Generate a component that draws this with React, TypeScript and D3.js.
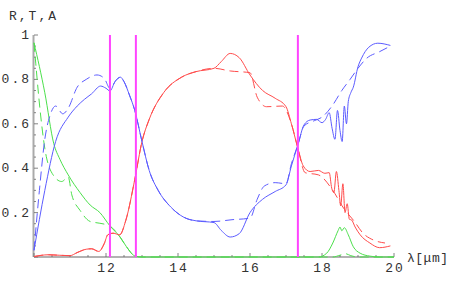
import React from 'react';
import * as d3 from 'd3';

// wavelength (um) vs value
const rSolid: [number, number][] = [
  [10, 0.03], [10.3, 0.3], [10.6, 0.52], [10.95, 0.63], [11.2, 0.68], [11.4, 0.71], [11.6, 0.735],
  [11.85, 0.77], [12.0, 0.76], [12.11, 0.748], [12.25, 0.79], [12.4, 0.81], [12.5, 0.79], [12.65, 0.73],
  [12.8, 0.66], [13.0, 0.52], [13.2, 0.39], [13.45, 0.3], [13.8, 0.225], [14.15, 0.18], [14.5, 0.163],
  [15.0, 0.155], [15.2, 0.12], [15.45, 0.09], [15.7, 0.105], [16.0, 0.2], [16.35, 0.26], [16.7, 0.295],
  [17.0, 0.325], [17.15, 0.41], [17.33, 0.505], [17.5, 0.595], [17.67, 0.617], [17.85, 0.62], [18.0, 0.605],
  [18.1, 0.62], [18.2, 0.65], [18.28, 0.58], [18.36, 0.53], [18.43, 0.66], [18.5, 0.57], [18.56, 0.52],
  [18.62, 0.68], [18.68, 0.6], [18.73, 0.7], [18.8, 0.74], [18.87, 0.765], [19.0, 0.857], [19.1, 0.896],
  [19.3, 0.945], [19.55, 0.963], [19.9, 0.953],
];
const rDashed: [number, number][] = [
  [10, 0.03], [10.15, 0.3], [10.3, 0.53], [10.45, 0.64], [10.6, 0.68], [10.8, 0.645], [10.95, 0.67],
  [11.2, 0.765], [11.45, 0.8], [11.75, 0.82], [11.95, 0.805], [12.11, 0.76], [12.3, 0.8], [12.4, 0.81],
  [12.5, 0.79], [12.65, 0.73], [12.8, 0.66], [13.0, 0.52], [13.2, 0.39], [13.45, 0.3], [13.8, 0.225],
  [14.15, 0.18], [14.5, 0.163], [15.0, 0.16], [15.5, 0.168], [16.0, 0.175], [16.2, 0.26], [16.4, 0.32],
  [16.7, 0.335], [17.0, 0.33], [17.15, 0.42], [17.33, 0.505], [17.5, 0.59], [17.8, 0.615], [18.0, 0.63],
  [18.3, 0.685], [18.55, 0.75], [18.78, 0.8], [19.0, 0.85], [19.24, 0.895], [19.6, 0.925], [19.9, 0.95],
];
const aSolid: [number, number][] = [
  [10, 0.002], [10.4, 0.01], [10.7, 0.008], [11.0, 0.006], [11.2, 0.02], [11.45, 0.035], [11.6, 0.037],
  [11.8, 0.025], [11.95, 0.06], [12.05, 0.1], [12.2, 0.107], [12.38, 0.1], [12.55, 0.165], [12.8, 0.35],
  [13.0, 0.52], [13.2, 0.62], [13.6, 0.74], [14.1, 0.81], [14.5, 0.835], [15.0, 0.85], [15.2, 0.88],
  [15.45, 0.917], [15.7, 0.898], [16.0, 0.82], [16.35, 0.75], [16.7, 0.715], [17.0, 0.677], [17.15, 0.6],
  [17.33, 0.49], [17.48, 0.41], [17.67, 0.385], [17.9, 0.39], [18.08, 0.377], [18.2, 0.38], [18.27, 0.31],
  [18.33, 0.29], [18.4, 0.385], [18.47, 0.3], [18.52, 0.23], [18.58, 0.33], [18.64, 0.2], [18.7, 0.24],
  [18.76, 0.17], [18.82, 0.167], [18.92, 0.135], [19.06, 0.1], [19.33, 0.063], [19.6, 0.042], [19.9, 0.05],
];
const aDashed: [number, number][] = [
  [10, 0.002], [10.4, 0.01], [10.7, 0.008], [11.0, 0.006], [11.2, 0.02], [11.45, 0.035], [11.6, 0.037],
  [11.8, 0.025], [11.95, 0.06], [12.05, 0.1], [12.2, 0.107], [12.38, 0.1], [12.55, 0.165], [12.8, 0.35],
  [13.0, 0.52], [13.2, 0.62], [13.6, 0.74], [14.1, 0.81], [14.5, 0.835], [15.0, 0.85], [15.45, 0.838],
  [16.0, 0.83], [16.2, 0.72], [16.46, 0.677], [16.9, 0.68], [17.15, 0.6], [17.33, 0.49], [17.53, 0.38],
  [17.9, 0.37], [18.3, 0.3], [18.6, 0.22], [18.9, 0.16], [19.14, 0.107], [19.42, 0.077], [19.75, 0.063],
];
const tSolid: [number, number][] = [
  [10, 0.965], [10.3, 0.74], [10.55, 0.51], [10.72, 0.44], [10.95, 0.37], [11.28, 0.29], [11.56, 0.234],
  [11.83, 0.2], [12.11, 0.14], [12.39, 0.09], [12.57, 0.046], [12.8, 0.005], [13.0, 0], [17.9, 0],
  [18.13, 0.017], [18.3, 0.063], [18.45, 0.12], [18.5, 0.135], [18.55, 0.118], [18.62, 0.132], [18.73, 0.1],
  [18.87, 0.046], [19.06, 0.017], [19.33, 0.004], [19.6, 0], [20, 0],
];
const tDashed: [number, number][] = [
  [10, 0.965], [10.05, 0.87], [10.17, 0.66], [10.3, 0.49], [10.53, 0.37], [10.77, 0.34], [10.95, 0.36],
  [11.05, 0.28], [11.28, 0.21], [11.56, 0.16], [11.83, 0.152], [12.1, 0.14], [12.39, 0.09], [12.57, 0.046],
  [12.8, 0.005], [13.0, 0], [18.3, 0], [18.5, 0.008], [18.65, 0.015], [18.8, 0.006], [19.0, 0], [20, 0],
];
const markers = [12.11, 12.83, 17.33];
const xTicks = [12, 14, 16, 18, 20];
const yTicks = [0.2, 0.4, 0.6, 0.8, 1];

const BLUE = '#5c5cff';
const RED = '#ff4c4c';
const GREEN = '#4ce04c';
const MAGENTA = '#ff44ff';

export default function App() {
  const x = d3.scaleLinear().domain([10, 20]).range([34, 394]);
  const y = d3.scaleLinear().domain([0, 1]).range([257, 35]);
  const line = d3
    .line<[number, number]>()
    .x((d) => x(d[0]))
    .y((d) => y(d[1]))
    .curve(d3.curveMonotoneX);

  const series = [
    { data: tSolid, color: GREEN, dash: null },
    { data: tDashed, color: GREEN, dash: '9,5' },
    { data: aSolid, color: RED, dash: null },
    { data: aDashed, color: RED, dash: '9,5' },
    { data: rSolid, color: BLUE, dash: null },
    { data: rDashed, color: BLUE, dash: '9,5' },
  ];

  const xMinor = d3.range(10, 20.001, 0.5);
  const yMinor = d3.range(0, 1.0001, 0.05);
  const font = "'Liberation Mono', 'DejaVu Sans Mono', monospace";

  return (
    <svg width={457} height={282} style={{ position: 'absolute', left: 0, top: 0, background: '#fff' }}>
      {/* axes */}
      <line x1={x(10)} x2={x(20)} y1={y(0)} y2={y(0)} stroke="#999" strokeWidth={1.5} />
      <line x1={x(10) - 0.5} x2={x(10) - 0.5} y1={y(0)} y2={y(1)} stroke="#aaa" strokeWidth={2} />
      {xMinor.map((v) => (
        <line key={'xm' + v} x1={x(v)} x2={x(v)} y1={y(0)} y2={y(0) - (v % 2 === 0 ? 4 : 2)} stroke="#666" strokeWidth={0.8} />
      ))}
      {yMinor.map((v) => {
        const major = Math.abs(v * 5 - Math.round(v * 5)) < 1e-6;
        return (
          <line key={'ym' + v} x1={x(10)} x2={x(10) + (major ? 4 : 2)} y1={y(v)} y2={y(v)} stroke="#666" strokeWidth={0.8} />
        );
      })}
      {xTicks.map((v) => (
        <text key={'xt' + v} x={x(v) + 1} y={272} textAnchor="middle" fontFamily={font} fontSize={13} letterSpacing={2} fill="#333">
          {v}
        </text>
      ))}
      {yTicks.map((v) => (
        <text key={'yt' + v} x={31} y={y(v) + 4} textAnchor="end" fontFamily={font} fontSize={13} letterSpacing={2} fill="#333">
          {v}
        </text>
      ))}
      <text x={9} y={20} fontFamily={font} fontSize={13} letterSpacing={2} fill="#333">
        R,T,A
      </text>
      <text x={407} y={262} fontFamily={font} fontSize={13} letterSpacing={0.5} fill="#333">
        λ[μm]
      </text>

      {/* curves */}
      {series.map((s, i) => (
        <path
          key={i}
          d={line(s.data) || ''}
          fill="none"
          stroke={s.color}
          strokeWidth={1}
          strokeDasharray={s.dash || undefined}
        />
      ))}

      {/* vertical markers */}
      {markers.map((m) => (
        <line key={'m' + m} x1={x(m)} x2={x(m)} y1={y(1)} y2={y(0)} stroke={MAGENTA} strokeWidth={2} />
      ))}
    </svg>
  );
}
